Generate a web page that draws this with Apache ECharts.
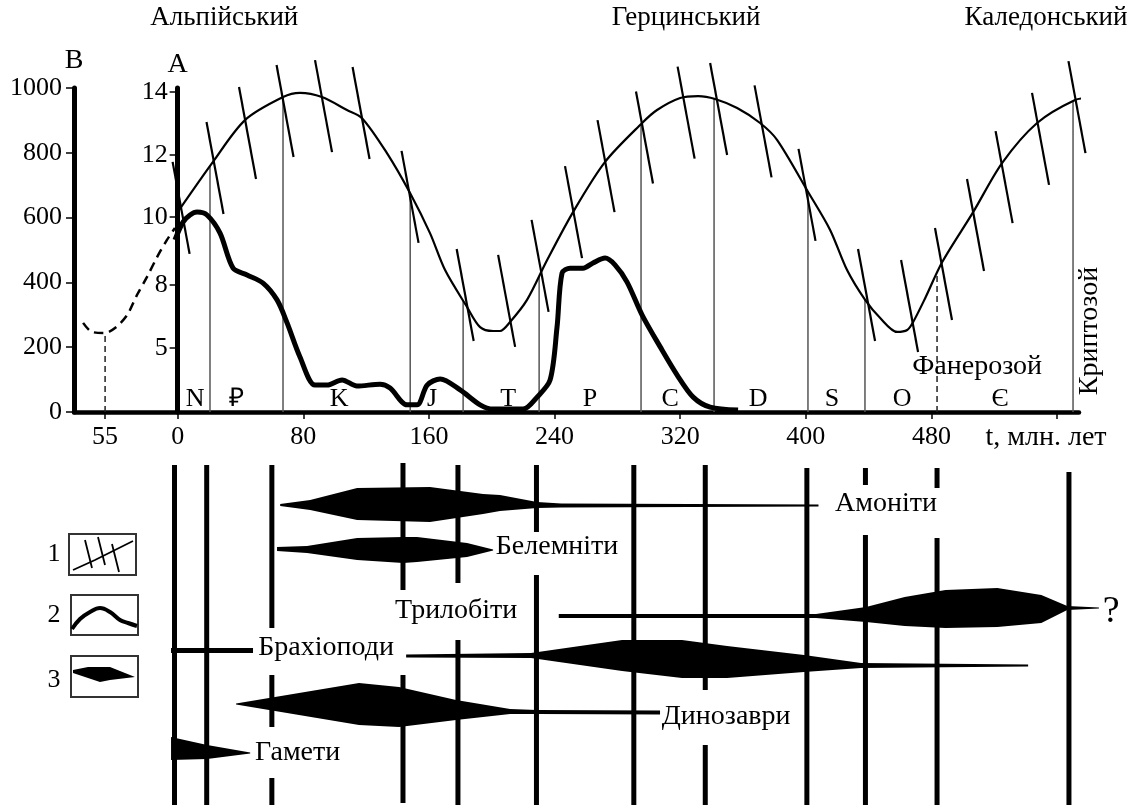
<!DOCTYPE html>
<html><head><meta charset="utf-8">
<script src="https://cdn.jsdelivr.net/npm/echarts@6/dist/echarts.min.js"></script>
<style>html,body{margin:0;padding:0;background:#fff}#c{width:1134px;height:809px}</style>
</head><body><div id="c"></div>
<script>
// ---------------- DATA ----------------
// x: time, млн. лет (the inset left of 0 is the "55" scale); y: B scale (0..1000)
const xTickValues = [-46.2, 0, 80, 160, 240, 320, 400, 480, 560];
const xTickLabels = ['55', '0', '80', '160', '240', '320', '400', '480', ''];
const aTickValues = [198, 392, 602, 793, 988];
const aTickLabels = ['5', '8', '10', '12', '14'];

// thin sinusoid (curve 1)
const sinAges = [0, 22.5, 42.9, 67.1, 77.9, 91.9, 107.8, 117.4, 133.3, 148.0, 160.7, 170.3, 184.3, 192.6, 200.9, 205.3, 211.7, 222.5, 235.3, 251.8, 272.2, 295.8, 305.3, 320.0, 331.5, 342.3, 356.3, 370.9, 381.7, 401.5, 415.5, 426.3, 437.8, 447.4, 458.2, 464.6, 468.4, 476.1, 486.9, 506.6, 525.1, 547.3, 571.5, 581.0, 587.4, 595.0];
const sinVals = [617, 772, 901, 972, 985, 972, 932, 907, 799, 676, 552, 438, 324, 262, 250, 250, 278, 346, 469, 617, 772, 892, 932, 969, 975, 966, 938, 892, 840, 679, 562, 438, 346, 290, 247, 253, 278, 352, 463, 617, 769, 892, 963, 969, 954, 920];
// slanted marks on the sinusoid (centres)
const strokeAges = [2.2, 23.8, 44.5, 68.4, 92.9, 116.8, 148.0, 183.1, 209.5, 230.8, 252.1, 272.8, 297.3, 323.8, 344.5, 372.8, 400.8, 438.7, 466.1, 487.7, 508.1, 526.3, 549.5, 572.7];
const strokeVals = [630, 753, 861, 929, 944, 923, 664, 361, 343, 451, 617, 759, 847, 924, 935, 866, 670, 361, 327, 426, 577, 725, 843, 941];
// thick curve (curve 2)
const thickAges = [-1.7, 3.4, 7.9, 12.4, 18.7, 27.0, 35.3, 44.2, 54.4, 63.3, 69.7, 77.9, 87.5, 95.1, 104.7, 114.2, 128.9, 135.3, 146.1, 152.5, 158.9, 167.2, 179.9, 192.6, 200.9, 220.0, 228.9, 237.2, 241.6, 244.8, 249.9, 258.2, 264.5, 272.2, 278.5, 286.2, 295.8, 307.3, 318.1, 328.3, 339.1, 356.9];
const thickVals = [531, 586, 608, 617, 608, 552, 444, 423, 398, 346, 275, 170, 83, 83, 99, 80, 86, 74, 22, 22, 83, 102, 68, 22, 9, 9, 46, 99, 262, 429, 444, 444, 460, 475, 454, 401, 299, 201, 114, 46, 15, 6];
// dashed curve on the B inset
const dashAges = [-60.2, -54.5, -46.2, -39.9, -32.2, -25.9, -19.5, -13.1, -6.8, -1.7];
const dashVals = [275, 247, 244, 259, 299, 361, 417, 478, 531, 568];
const dashMinAge = [-46.2];
const dashMinVal = [244];

// period boundaries
const boundaryAges = [20.6, 67.1, 148.1, 181.8, 230.2, 295.1, 341.6, 401.4, 437.7, 570.2];
const dashedBoundaryAges = [483.6];
const periodLetters = ['N', '\u20BD', 'K', 'J', 'T', 'P', 'C', 'D', 'S', 'O', '\u0404'];
const periodAges = [11.1, 37.8, 102.8, 162.0, 210.5, 262.6, 313.6, 369.6, 416.7, 461.3, 523.8];
const orogenyNames = ['Альпійський', 'Герцинський', 'Каледонський'];
const orogenyAges = [29.7, 323.8, 553.0];
const eonNames = ['Фанерозой', 'Криптозой', 't, млн. лет'];
const eonAges = [509.1, 581.0, 553.0];
const eonVals = [139, 250, -80];

// taxa ranges: [age, top, bottom] (lower panel units)
const ammonites = [[65.3, 44, 46], [84.4, 40, 50], [114.3, 28, 60], [160.7, 27, 62], [194.5, 34, 54], [205.3, 35, 51], [228.9, 42, 48], [244.2, 43.5, 47.5], [408.1, 44.5, 46.5]];
const belemnites = [[63.3, 87, 91], [82.4, 86, 93], [114.3, 78, 100], [143.6, 77, 103], [152.5, 77, 102], [184.3, 83, 97], [200.9, 89.5, 90.5]];
const trilobites = [[242.7, 154, 158], [406.5, 154, 158], [438.4, 147, 162], [463, 137, 166], [489, 130, 168], [522, 128, 167], [550, 135, 163], [566.5, 146, 150], [586.7, 147.5, 148.5]];
const brachiopodsYoung = [[-4.2, 188, 193], [48, 188, 193]];
const brachiopodsOld = [[145.5, 194.5, 197.5], [225, 193, 198], [283, 180, 211], [321.2, 180, 218], [349.9, 186, 218], [398.9, 195, 212], [435.2, 203, 208], [541.6, 204.5, 206.5]];
const dinosaurs = [[37.2, 243.5, 244.5], [58.2, 238, 250], [115.5, 223, 265], [141.0, 227, 267], [177.3, 240, 260], [211.7, 249, 254], [228.9, 250, 254], [307.2, 250.5, 254.5]];
const gametes = [[-4.2, 277, 300], [18.8, 285, 299], [46.2, 292.5, 293.5]];
const taxa = [ammonites, belemnites, trilobites, brachiopodsYoung, brachiopodsOld, dinosaurs, gametes];
const taxaLabels = ['Амоніти', 'Белемніти', 'Трилобіти', 'Брахіоподи', 'Динозаври', 'Гамети', '?'];
const taxaLabelAges = [451.1, 241.6, 177.4, 94.5, 349.3, 76.4, 594.5];
const taxaLabelY = [44, 87, 151, 188, 257, 293, 152];
// boundary lines of the lower panel: [age, from, to]
const lowerLines = [[-2, 5, 345], [18.5, 5, 345], [60, 5, 168], [60, 215, 267], [60, 318, 345], [143.5, 3, 130], [143.5, 215, 343], [178.5, 5, 123], [178.5, 180, 345], [228.5, 5, 72], [228.5, 115, 345], [290.5, 5, 345], [336, 5, 230], [336, 285, 345], [400.7, 8, 345], [438, 8, 25], [438, 75, 345], [483.6, 8, 28], [483.6, 78, 345], [567.6, 12, 345]];

// ---------------- CHART ----------------
const F = '"Liberation Serif","Times New Roman",serif';
const zip = (a, b) => a.map((v, i) => [v, b[i]]);
function sinAt(a) {
  for (let i = 1; i < sinAges.length; i++) {
    if (a <= sinAges[i]) {
      const t = (a - sinAges[i - 1]) / (sinAges[i] - sinAges[i - 1]);
      return sinVals[i - 1] + t * (sinVals[i] - sinVals[i - 1]);
    }
  }
  return sinVals[sinVals.length - 1];
}
function textSeries(xi, yi, data, labels, size, extra) {
  return {
    type: 'custom', xAxisIndex: xi, yAxisIndex: yi, data: data, silent: true, z: 5,
    renderItem: (p, api) => {
      const c = api.coord([api.value(0), api.value(1)]);
      const e = extra ? extra(p.dataIndex) : {};
      return {
        type: 'text', x: c[0], y: c[1], rotation: e.rotation || 0,
        style: { text: labels[p.dataIndex], fontSize: e.size || size, fontFamily: F, fill: '#000', align: 'center', verticalAlign: 'middle' }
      };
    }
  };
}

const X_MIN = -66, X_MAX = 574, G_LEFT = 74, G_RIGHT = 55;
const plotW = 1134 - G_LEFT - G_RIGHT;
const aAxisOffset = -((0 - X_MIN) / (X_MAX - X_MIN)) * plotW; // puts axis A on t = 0

const chart = echarts.init(document.getElementById('c'));
chart.setOption({
  animation: false,
  backgroundColor: '#fff',
  grid: [
    { left: G_LEFT, right: G_RIGHT, top: 88, bottom: 397 },
    { left: G_LEFT, right: G_RIGHT, top: 460, bottom: 0 }
  ],
  xAxis: [
    {
      type: 'value', gridIndex: 0, min: X_MIN, max: X_MAX,
      splitLine: { show: false },
      axisLine: { onZero: false, lineStyle: { color: '#000', width: 4.5 } },
      axisTick: { customValues: xTickValues, length: 7, lineStyle: { color: '#000', width: 1.5 } },
      axisLabel: {
        customValues: xTickValues, margin: 12, color: '#000', fontFamily: F, fontSize: 26,
        formatter: v => { const i = xTickValues.indexOf(v); return i >= 0 ? xTickLabels[i] : ''; }
      }
    },
    { type: 'value', gridIndex: 1, min: X_MIN, max: X_MAX, show: false }
  ],
  yAxis: [
    {
      type: 'value', gridIndex: 0, min: 0, max: 1000, interval: 200, position: 'left',
      name: 'B', nameLocation: 'end', nameGap: 4,
      nameTextStyle: { color: '#000', fontFamily: F, fontSize: 28, align: 'center' },
      splitLine: { show: false },
      axisLine: { onZero: false, lineStyle: { color: '#000', width: 5 } },
      axisTick: { length: 8, lineStyle: { color: '#000', width: 1.5 } },
      axisLabel: { margin: 12, color: '#000', fontFamily: F, fontSize: 26, formatter: v => String(v) }
    },
    {
      type: 'value', gridIndex: 0, min: 0, max: 1000, position: 'left', offset: aAxisOffset,
      name: 'A', nameLocation: 'end', nameGap: 3,
      nameTextStyle: { color: '#000', fontFamily: F, fontSize: 28, align: 'center' },
      splitLine: { show: false },
      axisLine: { onZero: false, lineStyle: { color: '#000', width: 5 } },
      axisTick: { customValues: aTickValues, length: 8, lineStyle: { color: '#000', width: 1.5 } },
      axisLabel: {
        customValues: aTickValues, margin: 10, color: '#000', fontFamily: F, fontSize: 26,
        formatter: v => { const i = aTickValues.indexOf(v); return i >= 0 ? aTickLabels[i] : ''; }
      }
    },
    { type: 'value', gridIndex: 1, min: 0, max: 349, inverse: true, show: false }
  ],
  graphic: [
    { type: 'text', x: 54, y: 554, style: { text: '1', fontSize: 26, fontFamily: F, fill: '#000', align: 'center', verticalAlign: 'middle' } },
    { type: 'text', x: 54, y: 615, style: { text: '2', fontSize: 26, fontFamily: F, fill: '#000', align: 'center', verticalAlign: 'middle' } },
    { type: 'text', x: 54, y: 680, style: { text: '3', fontSize: 26, fontFamily: F, fill: '#000', align: 'center', verticalAlign: 'middle' } },
    { type: 'rect', shape: { x: 69, y: 534, width: 67, height: 41 }, style: { fill: '#fff', stroke: '#333', lineWidth: 2 } },
    { type: 'polyline', shape: { points: [[73, 570], [95, 560], [115, 550], [133, 541]] }, style: { stroke: '#000', lineWidth: 1.8, fill: null } },
    { type: 'line', shape: { x1: 85, y1: 540, x2: 92, y2: 568 }, style: { stroke: '#000', lineWidth: 1.8 } },
    { type: 'line', shape: { x1: 98, y1: 537, x2: 105, y2: 565 }, style: { stroke: '#000', lineWidth: 1.8 } },
    { type: 'line', shape: { x1: 112, y1: 544, x2: 119, y2: 572 }, style: { stroke: '#000', lineWidth: 1.8 } },
    { type: 'rect', shape: { x: 71, y: 595, width: 67, height: 40 }, style: { fill: '#fff', stroke: '#333', lineWidth: 2 } },
    { type: 'polyline', shape: { points: [[72, 629], [80, 619], [90, 612], [100, 608], [110, 612], [120, 620], [128, 623], [137, 626]], smooth: 0.4 }, style: { stroke: '#000', lineWidth: 4, fill: null } },
    { type: 'rect', shape: { x: 71, y: 656, width: 67, height: 41 }, style: { fill: '#fff', stroke: '#333', lineWidth: 2 } },
    { type: 'polygon', shape: { points: [[73, 670], [88, 667], [110, 667], [135, 677], [110, 680], [100, 682], [73, 673]] }, style: { fill: '#000' } }
  ],
  series: [
    // boundary lines (upper)
    {
      type: 'custom', xAxisIndex: 0, yAxisIndex: 0, silent: true, z: 1,
      data: boundaryAges.map(a => [a, sinAt(a)]),
      renderItem: (p, api) => {
        const a = api.coord([api.value(0), 0]), b = api.coord([api.value(0), api.value(1)]);
        return { type: 'line', shape: { x1: a[0], y1: a[1], x2: b[0], y2: b[1] }, style: { stroke: '#555', lineWidth: 1.5 } };
      }
    },
    {
      type: 'custom', xAxisIndex: 0, yAxisIndex: 0, silent: true, z: 1,
      data: dashedBoundaryAges.map(a => [a, sinAt(a)]).concat(zip(dashMinAge, dashMinVal)),
      renderItem: (p, api) => {
        const a = api.coord([api.value(0), 0]), b = api.coord([api.value(0), api.value(1)]);
        return { type: 'line', shape: { x1: a[0], y1: a[1], x2: b[0], y2: b[1] }, style: { stroke: '#222', lineWidth: 1.5, lineDash: [6, 4] } };
      }
    },
    // sinusoid
    {
      type: 'line', xAxisIndex: 0, yAxisIndex: 0, data: zip(sinAges, sinVals), smooth: 0.3,
      showSymbol: false, clip: false, silent: true, z: 3,
      lineStyle: { color: '#000', width: 2.2 }
    },
    // slanted marks
    {
      type: 'custom', xAxisIndex: 0, yAxisIndex: 0, silent: true, z: 3,
      data: zip(strokeAges, strokeVals),
      renderItem: (p, api) => {
        const c = api.coord([api.value(0), api.value(1)]);
        return { type: 'line', shape: { x1: c[0] - 8.5, y1: c[1] - 46, x2: c[0] + 8.5, y2: c[1] + 46 }, style: { stroke: '#000', lineWidth: 2.2 } };
      }
    },
    // thick curve
    {
      type: 'line', xAxisIndex: 0, yAxisIndex: 0, data: zip(thickAges, thickVals), smooth: 0.3,
      showSymbol: false, clip: false, silent: true, z: 4,
      lineStyle: { color: '#000', width: 5 }
    },
    // dashed curve
    {
      type: 'line', xAxisIndex: 0, yAxisIndex: 0, data: zip(dashAges, dashVals), smooth: 0.3,
      showSymbol: false, clip: false, silent: true, z: 4,
      lineStyle: { color: '#000', width: 2.5, type: [9, 6] }
    },
    textSeries(0, 0, periodAges.map(a => [a, 40]), periodLetters, 26),
    textSeries(0, 0, orogenyAges.map(a => [a, 1216]), orogenyNames, 27),
    textSeries(0, 0, zip(eonAges, eonVals), eonNames, 28, i => (i === 1 ? { rotation: Math.PI / 2 } : {})),
    // lower panel vertical lines
    {
      type: 'custom', xAxisIndex: 1, yAxisIndex: 2, silent: true, z: 2,
      data: lowerLines,
      renderItem: (p, api) => {
        const a = api.coord([api.value(0), api.value(1)]), b = api.coord([api.value(0), api.value(2)]);
        return { type: 'line', shape: { x1: a[0], y1: a[1], x2: b[0], y2: b[1] }, style: { stroke: '#000', lineWidth: 5 } };
      }
    },
    // taxa ranges
    {
      type: 'custom', xAxisIndex: 1, yAxisIndex: 2, silent: true, z: 3,
      data: taxa.map(t => [t[0][0], t[0][1]]),
      renderItem: (p, api) => {
        const t = taxa[p.dataIndex];
        const top = t.map(d => api.coord([d[0], d[1]]));
        const bot = t.slice().reverse().map(d => api.coord([d[0], d[2]]));
        return { type: 'polygon', shape: { points: top.concat(bot) }, style: { fill: '#000' } };
      }
    },
    textSeries(1, 2, zip(taxaLabelAges, taxaLabelY), taxaLabels, 28, i => (i === 6 ? { size: 38 } : {}))
  ]
});
</script>
</body></html>
